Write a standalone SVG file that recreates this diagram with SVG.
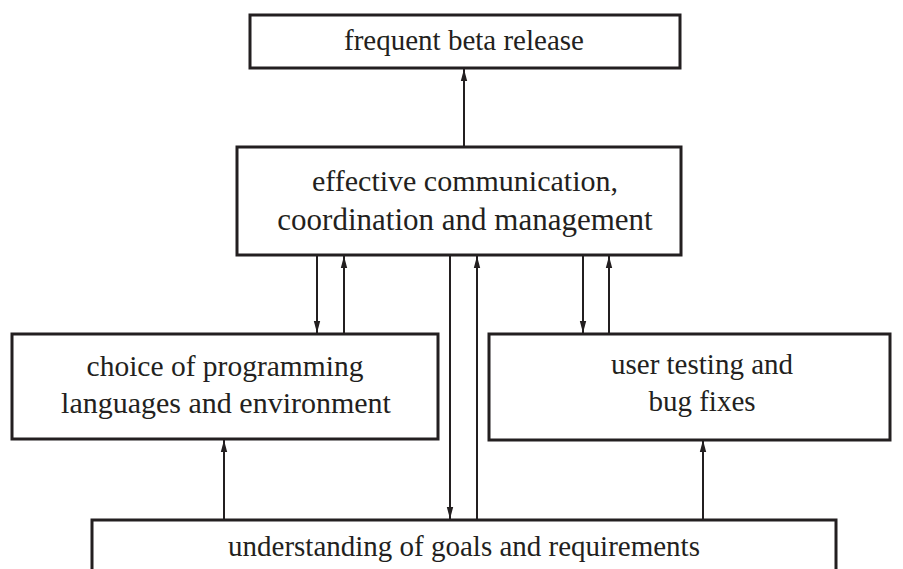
<svg xmlns="http://www.w3.org/2000/svg" width="903" height="569" viewBox="0 0 903 569">
<style>
.box{fill:#fff;stroke:#231f20;stroke-width:3}
.t{font-family:"Liberation Serif","Times New Roman",Tinos,serif;fill:#231f20;text-anchor:middle}
.c{stroke:#231f20;stroke-width:2;fill:none;marker-end:url(#ah)}
</style>
<defs>
<marker id="ah" markerUnits="userSpaceOnUse" markerWidth="12" markerHeight="8" refX="12" refY="4" orient="auto" viewBox="0 0 12 8">
<path d="M0,0.8 L12,4 L0,7.2 Z" fill="#231f20"/>
</marker>
</defs>
<rect width="903" height="569" fill="#fff"/>
<g id="connectors">
<line class="c" x1="464" y1="147" x2="464" y2="69"/>
<line class="c" x1="317" y1="255" x2="317" y2="333"/>
<line class="c" x1="344" y1="334" x2="344" y2="256"/>
<line class="c" x1="450" y1="255" x2="450" y2="519"/>
<line class="c" x1="477" y1="520" x2="477" y2="256"/>
<line class="c" x1="583" y1="255" x2="583" y2="333"/>
<line class="c" x1="609" y1="334" x2="609" y2="256"/>
<line class="c" x1="224" y1="520" x2="224" y2="440"/>
<line class="c" x1="703" y1="520" x2="703" y2="440"/>
</g>
<g id="beta">
<rect class="box" x="250" y="15" width="430" height="53"/>
<text class="t" x="464" y="50" font-size="29">frequent beta release</text>
</g>
<g id="communication">
<rect class="box" x="237" y="147" width="444" height="108"/>
<text class="t" x="465" y="191" font-size="30">effective communication,</text>
<text class="t" x="465" y="230" font-size="31">coordination and management</text>
</g>
<g id="choice">
<rect class="box" x="12" y="334" width="426" height="105"/>
<text class="t" x="225" y="376" font-size="29.5">choice of programming</text>
<text class="t" x="226" y="413" font-size="30">languages and environment</text>
</g>
<g id="testing">
<rect class="box" x="489" y="334" width="401" height="106"/>
<text class="t" x="702" y="374" font-size="29">user testing and</text>
<text class="t" x="702" y="411" font-size="29">bug fixes</text>
</g>
<g id="understanding">
<rect class="box" x="92" y="520" width="744" height="80"/>
<text class="t" x="464" y="556" font-size="29">understanding of goals and requirements</text>
</g>
</svg>
